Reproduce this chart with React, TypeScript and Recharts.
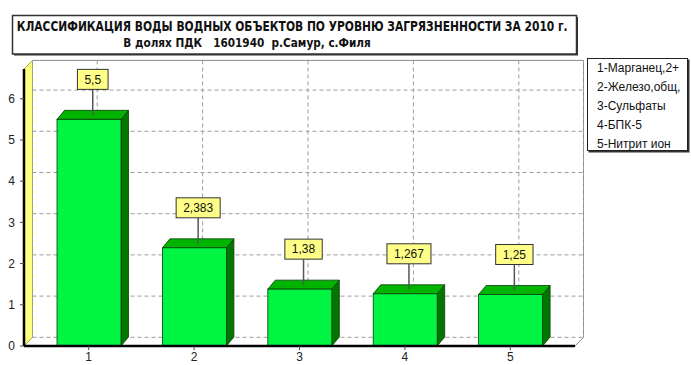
import React from 'react'
import { Bar, BarChart, CartesianGrid, LabelList, XAxis, YAxis } from 'recharts'

const CATEGORIES = ['1', '2', '3', '4', '5']
const VALUES = [5.5, 2.383, 1.38, 1.267, 1.25]
const LEGEND_NAMES = ['1-Марганец,2+', '2-Железо,общ,', '3-Сульфаты', '4-БПК-5', '5-Нитрит ион']
const Y_TICKS = [0, 1, 2, 3, 4, 5, 6]
const Y_MAX = 6.72
const TITLE_LINES = [
  'КЛАССИФИКАЦИЯ ВОДЫ ВОДНЫХ ОБЪЕКТОВ ПО УРОВНЮ ЗАГРЯЗНЕННОСТИ ЗА 2010 г.',
  'В долях ПДК   1601940  р.Самур, с.Филя',
]

const data = CATEGORIES.map((name, i) => ({ name, value: VALUES[i] }))

// chart geometry
const WIDTH = 691
const HEIGHT = 365
const PLOT_LEFT = 24
const PLOT_RIGHT = 575
const PLOT_TOP = 69.1
const PLOT_BOTTOM = 346
const WALL_DX = 8.5
const WALL_DY = 8.7
const BAR_DX = 7.5
const BAR_DY = 9

const FONT = '"Liberation Sans", Arial, sans-serif'
const TITLE_FONT = '"Liberation Sans Narrow", "DejaVu Sans Condensed", Arial, sans-serif'
const GRID_COLOR = '#9c9c9c'
const FRONT = '#00f542'
const TOP = '#00b400'
const SIDE = '#007800'
const EDGE = '#0a3a0a'
const NOTE_FILL = '#ffff88'

const fmt = (v: number) => String(v).replace('.', ',')

const textWidth = (s: string, size: number) =>
  s.split('').reduce((w, c) => w + (c === ',' ? 0.278 : 0.556) * size, 0)

// back-wall grid line, pushed into depth
const wallLine = (p: any) => (
  <line
    key={`${p.x1}-${p.y1}-${p.x2}-${p.y2}`}
    x1={p.x1 + WALL_DX}
    y1={p.y1 - WALL_DY}
    x2={p.x2 + WALL_DX}
    y2={p.y2 - WALL_DY}
    stroke={GRID_COLOR}
    strokeDasharray="4 3"
  />
)

function Box3D(props: any) {
  const { x, y, width: w, height: h } = props
  if (!w || h == null) return null
  return (
    <g>
      <polygon
        points={`${x + w},${y} ${x + w + BAR_DX},${y - BAR_DY} ${x + w + BAR_DX},${y + h - BAR_DY} ${x + w},${y + h}`}
        fill={SIDE}
        stroke={EDGE}
        strokeWidth={0.8}
      />
      <polygon
        points={`${x},${y} ${x + BAR_DX},${y - BAR_DY} ${x + w + BAR_DX},${y - BAR_DY} ${x + w},${y}`}
        fill={TOP}
        stroke={EDGE}
        strokeWidth={0.8}
      />
      <rect x={x} y={y} width={w} height={h} fill={FRONT} stroke={EDGE} strokeWidth={0.8} />
    </g>
  )
}

function ValueNote(props: any) {
  const vb = props.viewBox || {}
  const x = props.x ?? vb.x
  const y = props.y ?? vb.y
  const width = props.width ?? vb.width
  if (x == null || y == null) return null
  const label = fmt(Number(props.value))
  const cx = x + width / 2 + BAR_DX / 2
  const boxW = textWidth(label, 12) + 14
  const boxBottom = y - 30
  return (
    <g>
      <line x1={cx} y1={y - BAR_DY / 2} x2={cx} y2={boxBottom} stroke="#555" strokeWidth={1.5} />
      <rect x={cx - boxW / 2} y={boxBottom - 20} width={boxW} height={20} fill={NOTE_FILL} stroke="#333" strokeWidth={1} />
      <text x={cx} y={boxBottom - 20 + 14.3} textAnchor="middle" fontSize={12} fontFamily={FONT} fill="#111">
        {label}
      </text>
    </g>
  )
}

function Frame() {
  const backLeft = PLOT_LEFT + WALL_DX
  const backRight = PLOT_RIGHT + WALL_DX
  const backTop = PLOT_TOP - WALL_DY
  const backBottom = PLOT_BOTTOM - WALL_DY
  return (
    <svg width={WIDTH} height={HEIGHT} style={{ position: 'absolute', left: 0, top: 0 }}>
      {/* title box */}
      <rect x={14} y={17} width={564} height={38.5} fill="#333" />
      <rect x={12.5} y={15.5} width={564} height={38.5} fill="#fff" stroke="#333" strokeWidth={1.5} />
      <text
        x={16.7}
        y={30.8}
        fontSize={14}
        fontWeight="bold"
        fontFamily={TITLE_FONT}
        textLength={551}
        lengthAdjust="spacingAndGlyphs"
        fill="#111"
      >
        {TITLE_LINES[0]}
      </text>
      <text
        x={123.3}
        y={47.3}
        fontSize={13}
        fontWeight="bold"
        fontFamily={TITLE_FONT}
        textLength={247.5}
        lengthAdjust="spacingAndGlyphs"
        fill="#111"
        style={{ whiteSpace: 'pre' }}
      >
        {TITLE_LINES[1]}
      </text>

      {/* back wall edges */}
      <polyline
        points={`${backLeft},${backTop} ${backRight},${backTop} ${backRight},${backBottom} ${PLOT_RIGHT},${PLOT_BOTTOM}`}
        fill="none"
        stroke="#8a8a8a"
        strokeWidth={1}
      />
      {/* yellow side wall */}
      <polygon
        points={`${PLOT_LEFT},${PLOT_TOP} ${backLeft},${backTop} ${backLeft},${backBottom} ${PLOT_LEFT},${PLOT_BOTTOM}`}
        fill="#ffff80"
        stroke="#a8a830"
        strokeWidth={1}
      />
    </svg>
  )
}

function LegendBox() {
  return (
    <div
      style={{
        position: 'absolute',
        left: 587,
        top: 57.5,
        width: 101,
        height: 93,
        border: '1px solid #222',
        boxShadow: '1.5px 1.5px 0 #333',
        background: '#fff',
        fontFamily: FONT,
        fontSize: 12,
        lineHeight: '19px',
        color: '#111',
        paddingLeft: 9,
        boxSizing: 'border-box',
        whiteSpace: 'nowrap',
        overflow: 'visible',
      }}
    >
      {LEGEND_NAMES.map((n) => (
        <div key={n}>{n}</div>
      ))}
    </div>
  )
}

export default function App() {
  return (
    <div style={{ position: 'absolute', left: 0, top: 0, width: WIDTH, height: HEIGHT, background: '#fff' }}>
      <Frame />
      <div style={{ position: 'absolute', left: 0, top: 0 }}>
        <BarChart
          width={WIDTH}
          height={HEIGHT}
          data={data}
          margin={{ top: PLOT_TOP, right: WIDTH - PLOT_RIGHT, bottom: 0, left: 0 }}
        >
          <CartesianGrid horizontal={wallLine} vertical={wallLine} />
          <XAxis
            dataKey="name"
            height={HEIGHT - PLOT_BOTTOM}
            padding={{ left: 12, right: 12 }}
            axisLine={{ stroke: '#000', strokeWidth: 2.5 }}
            tickLine={{ stroke: '#444' }}
            tickSize={4}
            tickMargin={2.5}
            tick={{ fontSize: 12, fill: '#222', fontFamily: FONT }}
          />
          <YAxis
            width={PLOT_LEFT}
            domain={[0, Y_MAX]}
            ticks={Y_TICKS}
            allowDataOverflow
            axisLine={{ stroke: '#000', strokeWidth: 2.5 }}
            tickLine={{ stroke: '#444' }}
            tickSize={4}
            tickMargin={5}
            tick={{ fontSize: 12, fill: '#222', fontFamily: FONT }}
          />
          <Bar dataKey="value" barSize={64} shape={(p: any) => <Box3D {...p} />} isAnimationActive={false}>
            <LabelList dataKey="value" content={(p: any) => <ValueNote {...p} />} />
          </Bar>
        </BarChart>
      </div>
      <LegendBox />
    </div>
  )
}
